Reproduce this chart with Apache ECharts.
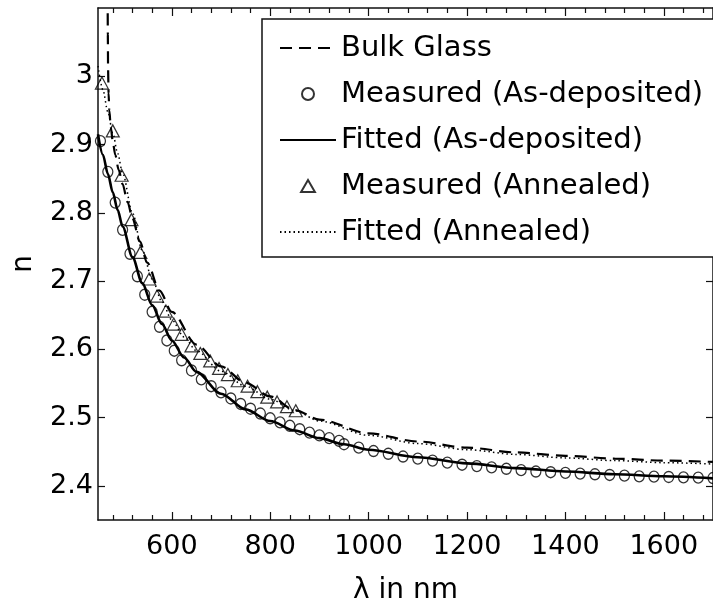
<!DOCTYPE html>
<html>
<head>
<meta charset="utf-8">
<script src="https://cdn.jsdelivr.net/npm/echarts@6/dist/echarts.min.js"></script>
<style>
  html, body { margin: 0; padding: 0; background: #fff; }
  #chart { width: 713px; height: 610px; }
</style>
</head>
<body>
<div id="chart"></div>
<script>
// Refractive index dispersion n(λ) of the chalcogenide film and bulk glass

// Bulk glass reference curve
const bulkLambda = [469.6, 470.0, 470.5, 471.5, 473, 476, 480, 485, 492, 500, 510, 520, 535, 550, 575, 600, 650, 700, 750, 800, 850, 900, 1000, 1100, 1200, 1300, 1400, 1500, 1600, 1700];
const bulkN      = [3.12, 3.06, 3.01, 2.975, 2.95, 2.925, 2.905, 2.885, 2.863, 2.842, 2.816, 2.792, 2.758, 2.727, 2.686, 2.655, 2.607, 2.575, 2.551, 2.531, 2.511, 2.497, 2.477, 2.465, 2.456, 2.449, 2.444, 2.440, 2.437, 2.435];

// As-deposited film: measured points
const asDepLambda = [455, 470, 485, 500, 515, 530, 545, 560, 575, 590, 605, 620, 640, 660, 680, 700, 720, 740, 760, 780, 800, 820, 840, 860, 880, 900, 920, 940,
                     950, 980, 1010, 1040, 1070, 1100, 1130, 1160, 1190, 1220, 1250, 1280, 1310, 1340, 1370, 1400, 1430, 1460, 1490, 1520, 1550, 1580, 1610, 1640, 1670, 1700];
const asDepN      = [2.905, 2.86, 2.815, 2.775, 2.74, 2.707, 2.68, 2.655, 2.633, 2.613, 2.598, 2.584, 2.569, 2.556, 2.546, 2.537, 2.528, 2.520, 2.513, 2.506, 2.499, 2.493, 2.488, 2.483, 2.478, 2.474, 2.470, 2.466,
                     2.461, 2.456, 2.451, 2.447, 2.443, 2.440, 2.437, 2.434, 2.431, 2.429, 2.427, 2.425, 2.423, 2.421, 2.420, 2.419, 2.418, 2.417, 2.416, 2.415, 2.414, 2.4135, 2.413, 2.4125, 2.412, 2.4115];

// As-deposited film: fitted dispersion
const asDepFitLambda = [450, 460, 470, 480, 490, 500, 520, 540, 560, 580, 600, 625, 650, 700, 750, 800, 850, 900, 950, 1000, 1100, 1200, 1300, 1400, 1500, 1600, 1700];
const asDepFitN      = [2.915, 2.885, 2.857, 2.83, 2.804, 2.78, 2.735, 2.697, 2.665, 2.637, 2.613, 2.588, 2.567, 2.535, 2.512, 2.495, 2.481, 2.470, 2.461, 2.453, 2.442, 2.433, 2.426, 2.421, 2.417, 2.414, 2.411];

// Annealed film: measured points
const annLambda = [458, 480, 498, 518, 536, 554, 570, 588, 604, 620, 640, 658, 678, 696, 714, 734, 754, 774, 794, 814, 834, 852];
const annN      = [2.99, 2.92, 2.855, 2.79, 2.742, 2.703, 2.678, 2.656, 2.637, 2.622, 2.605, 2.594, 2.583, 2.572, 2.563, 2.554, 2.546, 2.538, 2.530, 2.523, 2.516, 2.510];

// Annealed film: fitted dispersion
const annFitLambda = [450, 460, 470, 480, 490, 500, 520, 540, 560, 580, 600, 625, 650, 700, 750, 800, 850, 900, 1000, 1100, 1200, 1300, 1400, 1500, 1600, 1700];
const annFitN      = [3.015, 2.98, 2.948, 2.917, 2.887, 2.858, 2.80, 2.745, 2.703, 2.67, 2.643, 2.618, 2.598, 2.568, 2.546, 2.527, 2.51, 2.495, 2.474, 2.462, 2.453, 2.446, 2.441, 2.437, 2.434, 2.432];

// Axis ticks
const xMajorTicks = [600, 800, 1000, 1200, 1400, 1600];
const xMinorTicks = [480, 520, 560, 640, 680, 720, 760, 840, 880, 920, 960, 1040, 1080, 1120, 1160, 1240, 1280, 1320, 1360, 1440, 1480, 1520, 1560, 1640, 1680];
const yMajorTicks = [2.4, 2.5, 2.6, 2.7, 2.8, 2.9, 3];

const seriesNames = ['Bulk Glass', 'Measured (As-deposited)', 'Fitted (As-deposited)', 'Measured (Annealed)', 'Fitted (Annealed)'];

const pairs = (xs, ys) => xs.map((x, i) => [x, ys[i]]);

const FONT = 'DejaVu Sans';
const INK = '#111';

const chart = echarts.init(document.getElementById('chart'), null, { renderer: 'canvas' });

const axisLine = { show: true, lineStyle: { color: INK, width: 1.5 } };
const plainNumber = v => String(v);
// line-only legend entries: hide the marker that ECharts puts on line icons
const noMarker = { color: 'rgba(0,0,0,0)', borderColor: 'rgba(0,0,0,0)', borderWidth: 0 };
// open triangle for the legend, kept at its own aspect ratio
const triangleIcon = 'path://M6,0L12,10.4L0,10.4Z';

chart.setOption({
  backgroundColor: '#fff',
  animation: false,
  textStyle: { fontFamily: FONT },
  grid: { left: 98, top: 8, width: 625, height: 522, containLabel: false },
  legend: {
    orient: 'vertical',
    left: 262,
    top: 19,
    padding: [14, 15, 10, 17],
    itemGap: 16,
    itemWidth: 56,
    itemHeight: 12,
    symbolKeepAspect: true,
    backgroundColor: '#fff',
    borderColor: INK,
    borderWidth: 1.5,
    borderRadius: 0,
    selectedMode: false,
    textStyle: { fontFamily: FONT, fontSize: 29, color: '#000', lineHeight: 30 },
    data: [
      { name: seriesNames[0], itemStyle: noMarker },
      { name: seriesNames[1] },
      { name: seriesNames[2], itemStyle: noMarker },
      { name: seriesNames[3], icon: triangleIcon },
      { name: seriesNames[4], itemStyle: noMarker }
    ]
  },
  xAxis: [
    {
      type: 'value', position: 'bottom', min: 450, max: 1700,
      name: 'λ in nm', nameLocation: 'middle', nameGap: 57,
      nameTextStyle: { fontFamily: FONT, fontSize: 28, color: '#000' },
      axisLine: axisLine,
      axisTick: { show: true, inside: true, length: 8, customValues: xMajorTicks, lineStyle: { color: INK, width: 1.2 } },
      axisLabel: { show: true, margin: 13, customValues: xMajorTicks, formatter: plainNumber, fontFamily: FONT, fontSize: 27, color: '#000' },
      splitLine: { show: false }
    },
    {
      type: 'value', position: 'bottom', min: 450, max: 1700,
      axisLine: { show: false },
      axisTick: { show: true, inside: true, length: 5, customValues: xMinorTicks, lineStyle: { color: INK, width: 1.2 } },
      axisLabel: { show: false }, splitLine: { show: false }
    },
    {
      type: 'value', position: 'top', min: 450, max: 1700,
      axisLine: axisLine,
      axisTick: { show: true, inside: true, length: 8, customValues: xMajorTicks, lineStyle: { color: INK, width: 1.2 } },
      axisLabel: { show: false }, splitLine: { show: false }
    },
    {
      type: 'value', position: 'top', min: 450, max: 1700,
      axisLine: { show: false },
      axisTick: { show: true, inside: true, length: 5, customValues: xMinorTicks, lineStyle: { color: INK, width: 1.2 } },
      axisLabel: { show: false }, splitLine: { show: false }
    }
  ],
  yAxis: [
    {
      type: 'value', position: 'left', min: 2.35, max: 3.1,
      name: 'n', nameLocation: 'middle', nameGap: 60, nameRotate: 90,
      nameTextStyle: { fontFamily: FONT, fontSize: 28, color: '#000' },
      axisLine: axisLine,
      axisTick: { show: true, inside: true, length: 7, customValues: yMajorTicks, lineStyle: { color: INK, width: 1.2 } },
      axisLabel: { show: true, margin: 5, customValues: yMajorTicks, formatter: plainNumber, fontFamily: FONT, fontSize: 27, color: '#000' },
      splitLine: { show: false }
    },
    {
      type: 'value', position: 'right', min: 2.35, max: 3.1,
      axisLine: axisLine,
      axisTick: { show: true, inside: true, length: 7, customValues: yMajorTicks, lineStyle: { color: INK, width: 1.2 } },
      axisLabel: { show: false }, splitLine: { show: false }
    }
  ],
  series: [
    {
      name: seriesNames[0], type: 'line', data: pairs(bulkLambda, bulkN),
      symbol: 'none', smooth: 0.3, smoothMonotone: 'x', clip: true, z: 2,
      lineStyle: { color: '#000', width: 2.2, type: [12, 7] },
      itemStyle: { color: '#000' }
    },
    {
      name: seriesNames[1], type: 'scatter', data: pairs(asDepLambda, asDepN),
      symbol: 'circle', symbolSize: [10, 11], clip: true, z: 3,
      itemStyle: { color: 'rgba(0,0,0,0)', borderColor: '#000', borderWidth: 1.3 }
    },
    {
      name: seriesNames[2], type: 'line', data: pairs(asDepFitLambda, asDepFitN),
      symbol: 'none', smooth: 0.3, smoothMonotone: 'x', clip: true, z: 4,
      lineStyle: { color: '#000', width: 2.6, type: 'solid' },
      itemStyle: { color: '#000' }
    },
    {
      name: seriesNames[3], type: 'scatter', data: pairs(annLambda, annN),
      symbol: 'triangle', symbolSize: [13, 12], clip: true, z: 5,
      itemStyle: { color: 'rgba(0,0,0,0)', borderColor: '#000', borderWidth: 1.2 }
    },
    {
      name: seriesNames[4], type: 'line', data: pairs(annFitLambda, annFitN),
      symbol: 'none', smooth: 0.3, smoothMonotone: 'x', clip: true, z: 6,
      lineStyle: { color: '#000', width: 1.5, type: [1.5, 3] },
      itemStyle: { color: '#000' }
    }
  ]
});
</script>
</body>
</html>
